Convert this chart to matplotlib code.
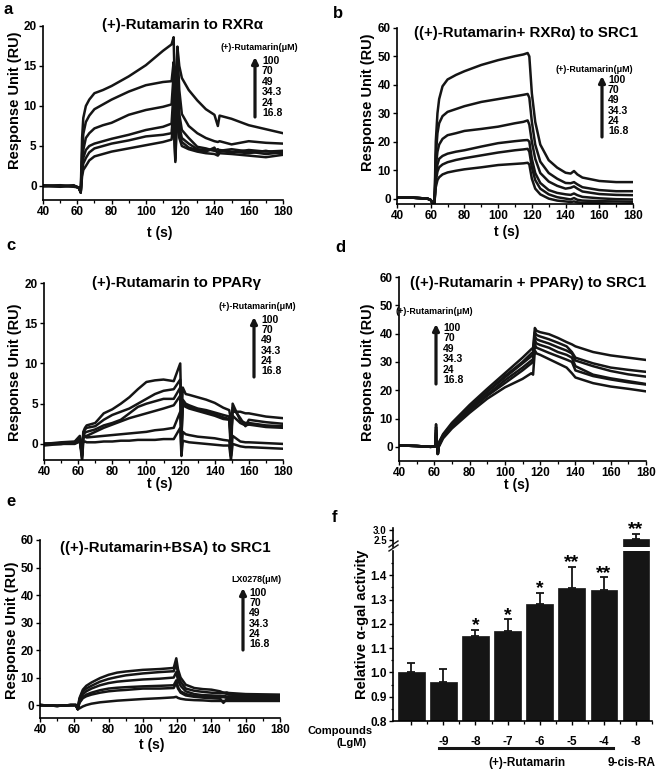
import matplotlib
matplotlib.use("Agg")
import matplotlib.pyplot as plt
from matplotlib.patches import FancyArrowPatch
from matplotlib.lines import Line2D

plt.rcParams['font.family'] = ['Liberation Sans', 'DejaVu Sans']
plt.rcParams['font.weight'] = 'bold'

W, H = 661, 771

# concentrations shown in every sensorgram legend (uM)
conc_labels = ['100', '70', '49', '34.3', '24', '16.8']

# ---- a: (+)-Rutamarin to RXRa ----
a_t = [40, 50, 58, 61, 62, 62.8, 63.5, 65, 67, 70, 75, 80, 90, 100, 110, 115,
       116.2, 117.2, 118.4, 119.5, 121, 125, 130, 135, 140, 142, 143, 150, 160, 170, 180]
a_100 = [0.1, -0.1, 0.1, -0.3, -0.8, 6.0, 8.5, 10.0, 10.8, 11.6, 12.0, 12.5, 13.7, 15.1, 16.9, 17.7,
         18.6, 9.0, 17.4, 15.0, 13.5, 12.0, 10.7, 9.6, 8.9, 7.5, 8.8, 8.4, 7.6, 7.1, 6.6]
a_70 = [0.0, 0.1, -0.1, -0.2, -0.8, 4.0, 6.5, 8.0, 8.8, 9.6, 10.2, 10.8, 11.8, 12.6, 13.0, 13.1,
        15.5, 5.0, 17.4, 12.0, 9.0, 7.5, 6.6, 6.0, 5.6, 5.5, 5.6, 5.2, 5.6, 5.4, 5.3]
a_49 = [0.0, 0.0, 0.0, -0.2, -0.8, 3.0, 4.5, 6.0, 6.6, 7.2, 7.6, 7.9, 8.9, 9.5, 9.9, 10.2,
        14.0, 4.0, 15.5, 9.0, 7.0, 6.0, 4.9, 4.7, 4.4, 4.6, 4.4, 4.2, 4.5, 4.3, 4.4]
a_34 = [0.0, 0.0, 0.0, -0.2, -0.8, 2.2, 3.5, 4.5, 5.0, 5.3, 5.6, 5.9, 6.4, 7.0, 7.4, 7.8,
        12.0, 3.5, 14.0, 7.5, 6.0, 5.3, 4.6, 4.5, 4.5, 4.2, 4.4, 4.6, 4.3, 4.0, 4.2]
a_24 = [0.0, 0.0, 0.0, -0.2, -0.8, 1.8, 2.8, 3.5, 4.2, 4.7, 5.0, 5.3, 5.7, 6.2, 6.4, 6.6,
        10.0, 3.2, 12.0, 6.5, 5.5, 4.8, 4.5, 4.3, 4.8, 4.0, 4.5, 4.3, 4.1, 4.4, 4.0]
a_17 = [0.0, 0.0, 0.0, -0.2, -0.8, 1.2, 2.0, 2.5, 3.2, 3.7, 4.0, 4.3, 4.7, 5.1, 5.5, 5.8,
        8.0, 3.0, 10.0, 6.0, 5.0, 4.6, 4.3, 4.1, 4.0, 3.8, 4.1, 4.0, 3.8, 3.6, 3.9]

# ---- b: ((+)-Rutamarin + RXRa) to SRC1 ----
b_t = [40, 50, 58, 60, 61, 62, 62.5, 63, 64, 65, 67, 70, 75, 80, 90, 100, 110, 115, 117.5,
       118.5, 120, 122, 125, 130, 135, 140, 143, 145, 147, 150, 160, 170, 180]
b_100 = [0.3, 0.3, 0.0, -0.5, -1.5, -2.5, 5, 20, 30, 35, 39.5, 41.9, 43.5, 44.8, 47.0, 48.7, 50.1, 50.7, 51.2,
         50, 37, 27, 19, 13.5, 10.9, 9.1, 8.8, 9.7, 8.5, 7.4, 6.2, 5.8, 5.8]
b_70 = [0.3, 0.3, 0.0, -0.5, -1.5, -2.5, 3, 15, 23, 26.5, 29, 30.5, 31.5, 32.5, 34, 35, 36, 36.5, 36.8,
        35.5, 27, 19, 13, 9.0, 7.0, 5.5, 5.4, 5.8, 5.0, 4.0, 3.0, 2.6, 2.6]
b_49 = [0.3, 0.3, 0.0, -0.5, -1.5, -2.5, 2, 11, 16.5, 19, 21, 22.3, 23, 23.8, 24.5, 25.3, 26.5, 27, 27.5,
        26, 20, 14, 9, 6, 4.5, 3.5, 3.8, 4.3, 3.5, 2.5, 1.6, 1.3, 1.2]
b_34 = [0.3, 0.3, 0.0, -0.5, -1.5, -2.5, 1.5, 8, 12, 14, 15, 15.8, 16.5, 17, 18.3, 19.5, 20.2, 20.5, 20.6,
        20, 14, 9, 5.5, 3, 2, 1.5, 1.3, 1.8, 1.2, 0.6, 0.1, -0.2, -0.3]
b_24 = [0.3, 0.3, 0.0, -0.5, -1.5, -2.5, 1, 6, 9.5, 11, 12, 12.8, 13.6, 14.2, 15.2, 16.2, 17, 17.3, 17.5,
        16.5, 11, 6.5, 3.5, 1.5, 0.5, 0, -0.3, 0.2, -0.4, -0.7, -0.9, -1.0, -1.1]
b_17 = [0.3, 0.3, 0.0, -0.5, -1.5, -2.5, 0.5, 4, 6.5, 7.5, 8.5, 9.2, 9.8, 10.3, 11, 11.8, 12.2, 12.4, 12.6,
        12, 7, 3.5, 1.5, 0, -0.7, -1.0, -1.2, -1.0, -1.3, -1.5, -1.6, -1.8, -1.8]

# ---- c: (+)-Rutamarin to PPARg ----
c_t = [40, 50, 58, 61, 62.3, 63, 64, 65, 70, 75, 80, 85, 90, 95, 100, 105, 110, 116, 119.8, 120.5,
       121.3, 123, 125, 130, 135, 140, 145, 148.5, 149.5, 150.5, 155, 158, 160, 170, 180]
c_100 = [0.0, 0.2, 0.3, 1.0, -1.5, 1.5, 2.0, 2.3, 2.6, 3.8, 4.3, 5.0, 5.8, 6.8, 7.7, 7.9, 8.0, 7.8, 10.0, 3.0,
         7.0, 6.2, 6.1, 5.8, 5.5, 5.1, 4.5, 4.2, 3.0, 4.0, 4.0, 3.8, 3.8, 3.4, 3.2]
c_70 = [0.0, 0.1, 0.2, 0.8, -1.8, 1.2, 1.8, 2.0, 2.2, 3.0, 3.6, 4.0, 4.4, 5.0, 5.6, 6.2, 6.6, 6.8, 8.0, 2.0,
        5.5, 5.0, 4.8, 4.4, 4.2, 3.9, 3.6, 3.4, -1.5, 4.5, 3.2, 2.2, 3.0, 2.7, 2.5]
c_49 = [0.0, 0.0, 0.2, 0.6, -1.5, 1.0, 1.4, 1.5, 1.8, 2.3, 2.6, 3.0, 3.8, 4.6, 5.0, 5.3, 5.6, 5.6, 7.0, 1.0,
        5.0, 4.8, 4.6, 4.3, 4.0, 3.7, 3.3, 3.1, 0.0, 5.0, 2.9, 2.6, 2.6, 2.3, 2.2]
c_34 = [0.0, 0.0, 0.1, 0.5, -1.3, 0.8, 1.0, 1.0, 1.5, 2.0, 2.4, 2.8, 3.2, 3.5, 3.8, 4.1, 4.4, 4.8, 6.0, 0.5,
        4.8, 4.6, 4.4, 4.1, 3.8, 3.5, 3.1, 3.0, 1.0, 3.5, 2.6, 2.3, 2.4, 2.1, 2.0]
c_24 = [0.0, 0.0, 0.1, 0.4, -1.2, 0.8, 0.9, 0.8, 0.9, 1.0, 1.1, 1.2, 1.3, 1.4, 1.5, 1.7, 1.8, 2.0, 4.0, -1.0,
        1.5, 1.2, 1.1, 0.9, 0.8, 0.7, 0.5, 0.4, -1.5, 1.0, 0.3, 0.2, 0.2, 0.1, 0.0]
c_17 = [-0.2, 0.0, 0.0, 0.3, -2.0, 0.2, 0.3, 0.2, 0.2, 0.3, 0.3, 0.4, 0.4, 0.5, 0.5, 0.5, 0.6, 0.6, 2.0, -1.5,
        0.4, 0.3, 0.2, 0.1, 0.0, -0.1, -0.2, -0.2, -2.0, 0.0, -0.3, -0.4, -0.4, -0.5, -0.6]

# ---- d: ((+)-Rutamarin + PPARg) to SRC1 ----
d_t = [40, 50, 58, 60.5, 61, 61.5, 62, 62.5, 63, 65, 70, 80, 90, 100, 110, 115, 116, 117, 118,
       120, 125, 130, 135, 138, 140, 145, 150, 160, 170, 180]
d_100 = [0.5, 0.3, 0.0, 0.2, 8.0, 1.0, -2.5, 0.5, 2.0, 4.5, 8.5, 14.8, 20.5, 26.0, 31.5, 34.5, 35.0, 42.0, 41.0,
         40.5, 39.8, 38.5, 37.0, 36.2, 35.5, 34.5, 33.5, 32.3, 31.5, 30.7]
d_70 = [0.5, 0.3, 0.0, 0.2, 7.0, 1.0, -2.5, 0.4, 1.8, 4.2, 8.0, 14.0, 19.5, 25.0, 30.0, 33.0, 33.5, 40.5, 39.5,
        39.0, 38.0, 36.8, 35.5, 33.5, 31.5, 30.5, 29.5, 28.0, 27.2, 26.5]
d_49 = [0.5, 0.3, 0.0, 0.2, 6.0, 1.0, -2.5, 0.3, 1.5, 4.0, 7.8, 14.0, 19.5, 24.5, 29.5, 32.0, 32.5, 39.0, 38.0,
        37.5, 36.5, 35.2, 34.0, 33.0, 30.5, 29.5, 28.5, 26.8, 25.6, 24.8]
d_34 = [0.5, 0.3, 0.0, 0.2, 5.0, 1.0, -2.5, 0.2, 1.2, 3.8, 7.2, 13.2, 18.5, 23.5, 28.0, 30.5, 31.0, 37.5, 36.5,
        36.0, 35.0, 33.5, 32.5, 31.5, 28.5, 27.0, 25.5, 24.2, 23.2, 22.2]
d_24 = [0.5, 0.3, 0.0, 0.2, 4.0, 1.0, -2.5, 0.1, 1.0, 3.5, 7.0, 12.8, 18.0, 22.5, 27.0, 29.5, 30.0, 36.0, 35.0,
        34.5, 33.2, 32.0, 30.8, 30.0, 27.0, 26.0, 25.0, 23.8, 22.8, 22.0]
d_17 = [0.5, 0.3, 0.0, 0.2, 3.0, 1.0, -2.5, 0.0, 0.5, 3.0, 6.5, 12.0, 17.0, 21.0, 24.0, 26.0, 25.5, 34.0, 33.0,
        32.5, 31.0, 29.5, 28.0, 26.0, 24.5, 23.5, 22.5, 21.3, 20.5, 19.6]

# ---- e: ((+)-Rutamarin + BSA) to SRC1 ----
e_t = [40, 50, 58, 61, 62, 63, 65, 67, 70, 75, 80, 85, 90, 100, 110, 118, 119.5, 120.5, 122, 125,
       130, 135, 140, 145, 147, 149, 150, 160, 170, 180]
e_100 = [0.0, -0.3, 0.0, 0.0, -1.5, 2.5, 5.6, 7.0, 8.2, 9.8, 11.0, 11.8, 12.2, 12.8, 13.1, 13.5, 17.0, 13.0, 10.0, 7.4,
         6.2, 5.8, 5.6, 5.0, 4.5, 4.6, 4.4, 4.0, 3.9, 3.8]
e_70 = [0.0, -0.3, 0.0, 0.0, -1.5, 2.0, 5.0, 6.0, 7.0, 8.5, 9.5, 10.2, 10.8, 11.5, 12.0, 12.3, 15.0, 11.5, 8.5, 6.0,
        5.2, 4.8, 4.5, 4.3, 4.5, 4.0, 3.8, 3.6, 3.5, 3.5]
e_49 = [0.0, -0.3, 0.0, 0.0, -1.5, 1.5, 4.0, 5.0, 6.0, 7.2, 8.0, 8.5, 8.8, 9.3, 9.6, 10.0, 12.0, 9.0, 7.0, 5.0,
        4.0, 3.6, 3.5, 3.3, 3.4, 3.1, 3.1, 3.0, 3.0, 3.0]
e_34 = [0.0, -0.3, 0.0, 0.0, -1.5, 1.0, 3.0, 3.8, 4.5, 5.4, 6.0, 6.3, 6.5, 6.8, 7.0, 7.2, 9.0, 6.5, 5.0, 4.0,
        3.3, 3.0, 3.0, 2.8, 2.9, 2.6, 2.6, 2.5, 2.5, 2.5]
e_24 = [0.0, -0.3, 0.0, 0.0, -1.5, 0.8, 2.5, 3.2, 3.8, 4.5, 5.0, 5.3, 5.5, 6.0, 6.0, 6.2, 8.0, 6.0, 4.5, 3.5,
        3.0, 2.7, 2.5, 2.3, 0.8, 2.2, 2.1, 2.0, 2.0, 2.0]
e_17 = [0.0, -0.3, 0.0, 0.0, -1.5, -1.2, -0.5, 0.0, 0.5, 1.0, 1.3, 1.6, 1.8, 2.2, 2.5, 2.8, 3.0, 2.6, 2.3, 2.0,
        1.8, 1.7, 1.5, 1.5, 1.5, 1.5, 1.5, 1.5, 1.5, 1.5]

# ---- f: relative a-gal activity ----
f_ticklabels = ['', '-9', '-8', '-7', '-6', '-5', '-4', '-8']
f_values = [1.003, 0.96, 1.15, 1.17, 1.283, 1.346, 1.341, 2.58]
f_errors = [0.035, 0.055, 0.025, 0.048, 0.043, 0.088, 0.05, 0.23]
f_stars = ['', '', '*', '*', '*', '**', '**', '**']

INK = '#151515'
TICK_FS = 8.5
TITLE_FS = 10.8
LABEL_FS = 10.5


def fx(x):
    return x / W


def fy(y):
    return 1 - y / H


def box(l, r, t, b):
    return [l / W, 1 - b / H, (r - l) / W, (b - t) / H]


def style_axis(ax):
    for s in ['top', 'right']:
        ax.spines[s].set_visible(False)
    for s in ['left', 'bottom']:
        ax.spines[s].set_linewidth(1.2)
    ax.tick_params(which='major', direction='out', length=3, width=1.0, labelsize=TICK_FS, pad=1.5)
    ax.tick_params(which='minor', direction='out', length=1.8, width=0.9)


def sensorgram(rect, t, curves, ylim, yticks):
    ax = fig.add_axes(box(*rect))
    for y in curves:
        ax.plot(t, y, color=INK, lw=1.8, solid_joinstyle='round')
    ax.set_xlim(40, 180)
    ax.set_ylim(*ylim)
    ax.set_xticks(range(40, 181, 20))
    ax.set_xticks(range(50, 180, 20), minor=True)
    ax.set_yticks(yticks)
    style_axis(ax)
    return ax


def conc_legend(header, hx, hy, nx, ny0, ny1, ax_x, a0, a1):
    fig.text(fx(hx), fy(hy), header, ha='center', va='center', fontsize=6.4)
    step = (ny1 - ny0) / (len(conc_labels) - 1)
    for i, s in enumerate(conc_labels):
        fig.text(fx(nx), fy(ny0 + i * step), s, ha='left', va='center', fontsize=7.5)
    arr = FancyArrowPatch((fx(ax_x), fy(a0)), (fx(ax_x), fy(a1)), transform=fig.transFigure,
                          arrowstyle='-|>', mutation_scale=9, lw=2.3, color=INK,
                          shrinkA=0, shrinkB=0)
    fig.add_artist(arr)


def panel_text(x, y, s, **kw):
    fig.text(fx(x), fy(y), s, ha='center', va='center', **kw)


fig = plt.figure(figsize=(W / 100, H / 100), dpi=100)

# panel a
sensorgram((43, 283, 26, 200), a_t, [a_100, a_70, a_49, a_34, a_24, a_17], (-1.75, 20), [0, 5, 10, 15, 20])
panel_text(182, 25, '(+)-Rutamarin to RXRα', fontsize=TITLE_FS)
conc_legend('(+)-Rutamarin(μM)', 259, 48, 262, 61, 113, 255, 117, 57)
panel_text(15, 100, 'Response Unit (RU)', rotation=90, fontsize=LABEL_FS)
panel_text(160, 233, 't (s)', fontsize=10)
panel_text(8, 9, 'a', fontsize=12)

# panel b
sensorgram((397, 633, 28, 204), b_t, [b_100, b_70, b_49, b_34, b_24, b_17], (-1.9, 60), range(0, 61, 10))
panel_text(526, 33, '((+)-Rutamarin+ RXRα) to SRC1', fontsize=TITLE_FS)
conc_legend('(+)-Rutamarin(μM)', 594, 69, 608, 80, 131, 602, 137, 76)
panel_text(368, 102, 'Response Unit (RU)', rotation=90, fontsize=LABEL_FS)
panel_text(507, 232, 't (s)', fontsize=10)
panel_text(338, 13, 'b', fontsize=12)

# panel c
sensorgram((44, 283, 283, 460), c_t, [c_100, c_70, c_49, c_34, c_24, c_17], (-2, 20), [0, 5, 10, 15, 20])
panel_text(176, 283, '(+)-Rutamarin to PPARγ', fontsize=TITLE_FS)
conc_legend('(+)-Rutamarin(μM)', 257, 307, 261, 320, 371, 254, 377, 317)
panel_text(15, 372, 'Response Unit (RU)', rotation=90, fontsize=LABEL_FS)
panel_text(160, 484, 't (s)', fontsize=10)
panel_text(11, 246, 'c', fontsize=12)

# panel d
sensorgram((399, 646, 277, 461), d_t, [d_100, d_70, d_49, d_34, d_24, d_17], (-5, 60), range(0, 61, 10))
panel_text(528, 283, '((+)-Rutamarin + PPARγ) to SRC1', fontsize=TITLE_FS)
conc_legend('(+)-Rutamarin(μM)', 434, 312, 443, 328, 380, 436, 384, 324)
panel_text(368, 372, 'Response Unit (RU)', rotation=90, fontsize=LABEL_FS)
panel_text(517, 485, 't (s)', fontsize=10)
panel_text(340, 247, 'd', fontsize=12)

# panel e
sensorgram((40, 280, 540, 718), e_t, [e_100, e_70, e_49, e_34, e_24, e_17], (-4.7, 60), range(0, 61, 10))
panel_text(165, 548, '((+)-Rutamarin+BSA) to SRC1', fontsize=TITLE_FS)
conc_legend('LX0278(μM)', 256, 579, 249, 593, 644, 243, 650, 588)
panel_text(12, 630, 'Response Unit (RU)', rotation=90, fontsize=LABEL_FS)
panel_text(152, 745, 't (s)', fontsize=10)
panel_text(11, 502, 'e', fontsize=12)

# panel f: broken-axis bar chart
xs = list(range(len(f_values)))
ax_lo = fig.add_axes(box(393, 652, 551, 721))
ax_hi = fig.add_axes(box(393, 652, 528, 547))
for ax in (ax_lo, ax_hi):
    ax.bar(xs, f_values, width=0.83, color=INK, edgecolor=INK, lw=0.5)
    ax.set_xlim(-0.57, 7.5)
    style_axis(ax)
ax_lo.errorbar(xs[:-1], f_values[:-1], yerr=[[0] * 7, f_errors[:-1]], fmt='none',
               ecolor=INK, elinewidth=1.3, capsize=3, capthick=1.3)
ax_hi.errorbar(xs[-1:], f_values[-1:], yerr=[[0], f_errors[-1:]], fmt='none',
               ecolor=INK, elinewidth=1.3, capsize=3, capthick=1.3)
ax_lo.set_ylim(0.8, 1.5)
ax_lo.set_yticks([0.8, 0.9, 1.0, 1.1, 1.2, 1.3, 1.4])
ax_lo.set_yticks([0.85, 0.95, 1.05, 1.15, 1.25, 1.35, 1.45], minor=True)
ax_lo.set_xticks(xs)
ax_lo.set_xticks([x + 0.5 for x in xs], minor=True)
ax_lo.set_xticklabels(f_ticklabels, fontsize=TICK_FS)
ax_lo.tick_params(axis='x', which='major', pad=8)
ax_hi.set_ylim(2.19, 3.09)
ax_hi.set_yticks([2.5, 3.0])
ax_hi.set_yticklabels(['2.5', '3.0'], fontsize=7)
ax_hi.spines['bottom'].set_visible(False)
ax_hi.set_xticks([])

for x, v, e, s in zip(xs[:-1], f_values[:-1], f_errors[:-1], f_stars[:-1]):
    if s:
        ax_lo.annotate(s, (x, v + e), xytext=(0, -3), textcoords='offset points',
                       ha='center', va='bottom', fontsize=14)
ax_hi.annotate(f_stars[-1], (xs[-1], f_values[-1] + f_errors[-1]), xytext=(0, -3),
               textcoords='offset points', ha='center', va='bottom', fontsize=14, annotation_clip=False)

# break marks on the y axis
for dy in (0, 4):
    fig.add_artist(Line2D([fx(389), fx(398)], [fy(551 - dy), fy(545 - dy)], color=INK, lw=1.0))

# group underline and labels
ax_lo.plot([0.85, 6.3], [-0.158, -0.158], transform=ax_lo.get_xaxis_transform(),
           color=INK, lw=2.2, clip_on=False)
panel_text(527, 763, '(+)-Rutamarin', fontsize=8.5)
panel_text(632, 763, '9-cis-RA', fontsize=8.5)
panel_text(340, 731, 'Compounds', fontsize=8)
panel_text(352, 743, '(LgM)', fontsize=8)
panel_text(362, 624, 'Relative α-gal activity', rotation=90, fontsize=LABEL_FS)
panel_text(335, 517, 'f', fontsize=12)

fig.savefig('out.png', dpi=100)
